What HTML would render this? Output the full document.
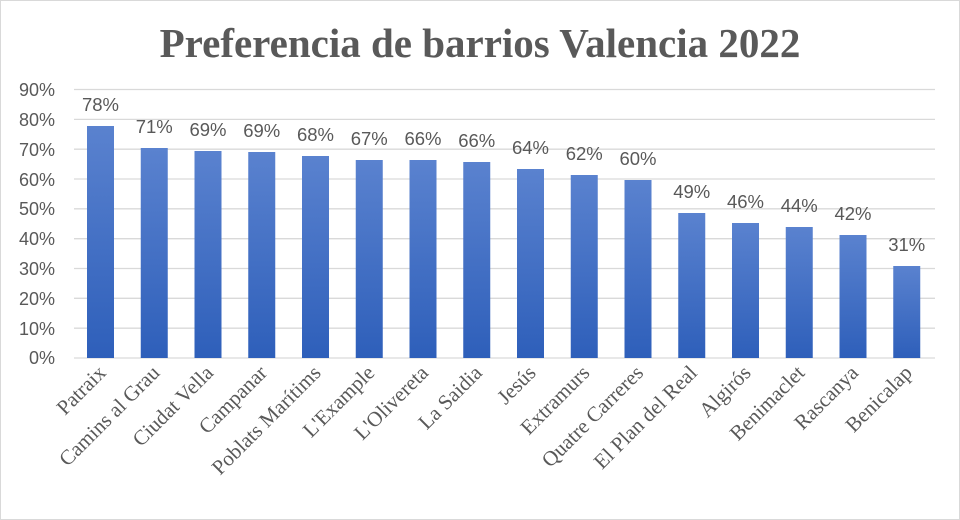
<!DOCTYPE html>
<html><head><meta charset="utf-8"><style>body{margin:0;background:#fff}svg{display:block}</style></head><body>
<svg width="960" height="520" xmlns="http://www.w3.org/2000/svg">
<defs><linearGradient id="g" x1="0" y1="0" x2="0" y2="1"><stop offset="0" stop-color="#5a82cf"/><stop offset="1" stop-color="#2e5fba"/></linearGradient></defs>
<rect x="0.5" y="0.5" width="959" height="519" fill="#fff" stroke="#d9d9d9"/>
<text x="480" y="57" text-anchor="middle" font-family="Liberation Serif, serif" font-weight="bold" font-size="41" fill="#595959">Preferencia de barrios Valencia 2022</text>
<g stroke="#d9d9d9" stroke-width="1.3">
<line x1="74" x2="935" y1="89.5" y2="89.5"/><line x1="74" x2="935" y1="119.4" y2="119.4"/><line x1="74" x2="935" y1="149.2" y2="149.2"/><line x1="74" x2="935" y1="179" y2="179"/><line x1="74" x2="935" y1="208.8" y2="208.8"/><line x1="74" x2="935" y1="238.7" y2="238.7"/><line x1="74" x2="935" y1="268.5" y2="268.5"/><line x1="74" x2="935" y1="298.3" y2="298.3"/><line x1="74" x2="935" y1="328.2" y2="328.2"/><line x1="74" x2="935" y1="358" y2="358"/>
</g>
<g font-family="Liberation Sans, sans-serif" font-size="18" fill="#595959" text-anchor="end">
<text x="55" y="96">90%</text><text x="55" y="126">80%</text><text x="55" y="156">70%</text><text x="55" y="186">60%</text><text x="55" y="215">50%</text><text x="55" y="245">40%</text><text x="55" y="275">30%</text><text x="55" y="305">20%</text><text x="55" y="335">10%</text><text x="55" y="364">0%</text>
</g>
<g fill="url(#g)">
<rect x="87" y="126" width="27" height="232"/>
<rect x="140.75" y="148" width="27" height="210"/>
<rect x="194.5" y="151" width="27" height="207"/>
<rect x="248.25" y="152" width="27" height="206"/>
<rect x="302" y="156" width="27" height="202"/>
<rect x="355.75" y="160" width="27" height="198"/>
<rect x="409.5" y="160" width="27" height="198"/>
<rect x="463.25" y="162" width="27" height="196"/>
<rect x="517" y="169" width="27" height="189"/>
<rect x="570.75" y="175" width="27" height="183"/>
<rect x="624.5" y="180" width="27" height="178"/>
<rect x="678.25" y="213" width="27" height="145"/>
<rect x="732" y="223" width="27" height="135"/>
<rect x="785.75" y="227" width="27" height="131"/>
<rect x="839.5" y="235" width="27" height="123"/>
<rect x="893.25" y="266" width="27" height="92"/>
</g>
<g font-family="Liberation Sans, sans-serif" font-size="18.5" fill="#595959" text-anchor="middle">
<text x="100.5" y="111">78%</text>
<text x="154.25" y="133">71%</text>
<text x="208" y="136">69%</text>
<text x="261.75" y="137">69%</text>
<text x="315.5" y="141">68%</text>
<text x="369.25" y="145">67%</text>
<text x="423" y="145">66%</text>
<text x="476.75" y="147">66%</text>
<text x="530.5" y="154">64%</text>
<text x="584.25" y="160">62%</text>
<text x="638" y="165">60%</text>
<text x="691.75" y="198">49%</text>
<text x="745.5" y="208">46%</text>
<text x="799.25" y="212">44%</text>
<text x="853" y="220">42%</text>
<text x="906.75" y="251">31%</text>
</g>
<g font-family="Liberation Serif, serif" font-size="21" fill="#595959" text-anchor="end">
<text transform="translate(107,374) rotate(-45)">Patraix</text>
<text transform="translate(160.75,374) rotate(-45)">Camins al Grau</text>
<text transform="translate(214.5,374) rotate(-45)">Ciudat Vella</text>
<text transform="translate(268.25,374) rotate(-45)">Campanar</text>
<text transform="translate(322,374) rotate(-45)">Poblats Marítims</text>
<text transform="translate(375.75,374) rotate(-45)">L'Example</text>
<text transform="translate(429.5,374) rotate(-45)">L'Olivereta</text>
<text transform="translate(483.25,374) rotate(-45)">La Saidia</text>
<text transform="translate(537,374) rotate(-45)">Jesús</text>
<text transform="translate(590.75,374) rotate(-45)">Extramurs</text>
<text transform="translate(644.5,374) rotate(-45)">Quatre Carreres</text>
<text transform="translate(698.25,374) rotate(-45)">El Plan del Real</text>
<text transform="translate(752,374) rotate(-45)">Algirós</text>
<text transform="translate(805.75,374) rotate(-45)">Benimaclet</text>
<text transform="translate(859.5,374) rotate(-45)">Rascanya</text>
<text transform="translate(913.25,374) rotate(-45)">Benicalap</text>
</g>
</svg>
</body></html>
